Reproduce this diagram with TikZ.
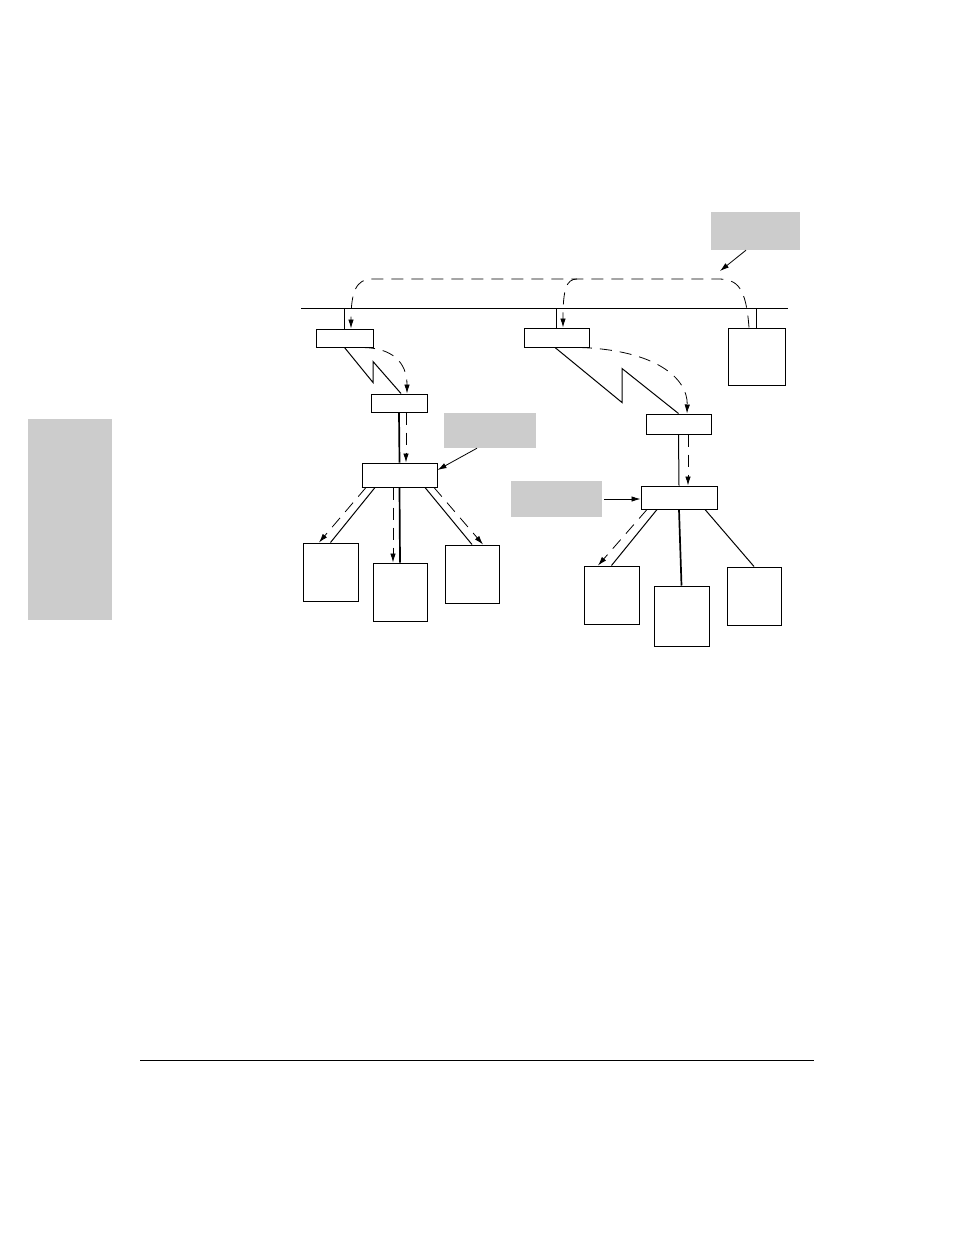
\documentclass[tikz,border=0pt]{standalone}
\usepackage{tikz}
\usetikzlibrary{arrows.meta,calc}
\usepackage{xcolor}
\definecolor{notegray}{RGB}{204,204,204}

\begin{document}
\begin{tikzpicture}[x=1pt, y=-1pt,
        box/.style={rectangle, draw=black, fill=white, line width=1pt, inner sep=0pt},
        note/.style={rectangle, fill=notegray, inner sep=0pt},
        link/.style={line width=1pt},
        heavy/.style={line width=1.7pt},
        flow/.style={line width=0.8pt, dash pattern=on 12pt off 8pt, -{Latex[length=9pt,width=5.5pt]}},
        pointer/.style={line width=0.8pt, -{Latex[length=9pt,width=5.5pt]}}
      ]
        \fill[white] (0,0) rectangle (954,1235);
        \useasboundingbox (0,0) rectangle (954,1235);

        % page furniture
        \node[note, minimum width=84pt, minimum height=201pt] (tab) at (70,519.5) {};
        \coordinate (ruleL) at (140,1060);
        \coordinate (ruleR) at (814,1060);
        \draw[line width=0.8pt] (ruleL) -- (ruleR);

        % backbone
        \coordinate (busL) at (301,308);
        \coordinate (busR) at (788,308);
        \draw[link] (busL) -- (busR);

        \node[box, minimum width=57pt, minimum height=18pt] (lrouter) at (344.5,338) {};
        \node[box, minimum width=65pt, minimum height=19pt] (mrouter) at (556.5,337.5) {};
        \node[box, minimum width=57pt, minimum height=57pt] (server) at (756.5,356.5) {};
        \node[box, minimum width=56pt, minimum height=18pt] (lremote) at (399,403) {};
        \node[box, minimum width=65pt, minimum height=20pt] (rremote) at (678.5,424) {};
        \node[box, minimum width=75pt, minimum height=24pt] (lhub) at (399.5,475) {};
        \node[box, minimum width=76pt, minimum height=23pt] (rhub) at (679,497.5) {};

        \node[box, minimum width=55pt, minimum height=58pt] (lpc1) at (330.5,572) {};
        \node[box, minimum width=54pt, minimum height=58pt] (lpc2) at (400,592) {};
        \node[box, minimum width=54pt, minimum height=58pt] (lpc3) at (472,574) {};
        \node[box, minimum width=55pt, minimum height=58pt] (rpc1) at (611.5,595) {};
        \node[box, minimum width=55pt, minimum height=60pt] (rpc2) at (681.5,616) {};
        \node[box, minimum width=54pt, minimum height=58pt] (rpc3) at (754,596) {};

        \node[note, minimum width=89pt, minimum height=38pt] (topnote) at (755.5,231) {};
        \node[note, minimum width=92pt, minimum height=35pt] (lnote) at (490,430.5) {};
        \node[note, minimum width=91pt, minimum height=36pt] (rnote) at (556.5,499) {};

        % taps onto the backbone
        \draw[link] (lrouter.north) -- (lrouter.north |- busL);
        \draw[link] (mrouter.north) -- (mrouter.north |- busL);
        \draw[link] (server.north) -- (server.north |- busL);

        % WAN links
        \draw[link] (lrouter.south) -- ++(28.5,35) -- ++(0,-21) -- ([xshift=2pt]lremote.north);
        \draw[link] ([xshift=-1.5pt]mrouter.south) -- ++(67,55) -- ++(0,-34) -- (rremote.north);

        % LAN links
        \draw[heavy] (lremote.south) -- (lhub.north);
        \draw[heavy] (lhub.south west) -- (lhub.south east);
        \draw[link] ([xshift=-24.5pt]lhub.south) -- (lpc1.north);
        \draw[heavy] (lhub.south) -- (lpc2.north);
        \draw[link] ([xshift=25.5pt]lhub.south) -- (lpc3.north);

        \draw[link] (rremote.south) -- (rhub.north);
        \draw[link] ([xshift=-22pt]rhub.south) -- (rpc1.north);
        \draw[heavy] (rhub.south) -- (rpc2.north);
        \draw[link] ([xshift=26pt]rhub.south) -- (rpc3.north);

        % traffic path
        \coordinate (fork) at (577,279);
        \draw[flow] ([xshift=-7.5pt]server.north) .. controls (746,288) and (738,279) .. (718,279)
            -- (372,279) .. controls (356,279) and (351,292) .. ([xshift=6.5pt]lrouter.north);
        \draw[flow] (fork) .. controls (566,279) and (563,290) .. ([xshift=6.5pt]mrouter.north);
        \draw[flow] ([xshift=18.5pt]lrouter.south) .. controls (392,348) and (407,362) .. ([xshift=8pt]lremote.north);
        \draw[flow] ([xshift=23.5pt]mrouter.south) .. controls (655,350) and (688,378) .. ([xshift=8.5pt]rremote.north);
        \draw[flow] ([xshift=7pt]lremote.south) -- ([xshift=6.5pt]lhub.north);
        \draw[flow] ([xshift=9.5pt]rremote.south) -- ([xshift=9pt]rhub.north);
        \draw[flow] ([xshift=-33.5pt]lhub.south) -- ([xshift=-11.5pt]lpc1.north);
        \draw[flow] ([xshift=-6.5pt]lhub.south) -- ([xshift=-7pt]lpc2.north);
        \draw[flow] ([xshift=34.5pt]lhub.south) -- ([xshift=11pt]lpc3.north);
        \draw[flow] ([xshift=-32pt]rhub.south) -- ([xshift=-13.5pt]rpc1.north);

        % callouts
        \coordinate (topmark) at (720,271);
        \draw[pointer] ([xshift=-9.5pt]topnote.south) -- (topmark);
        \draw[pointer] ([xshift=-13pt]lnote.south) -- ([yshift=5pt]lhub.east);
        \draw[pointer] ([xshift=2pt]rnote.east) -- (rnote.east -| rhub.west);
      \end{tikzpicture}
\end{document}
